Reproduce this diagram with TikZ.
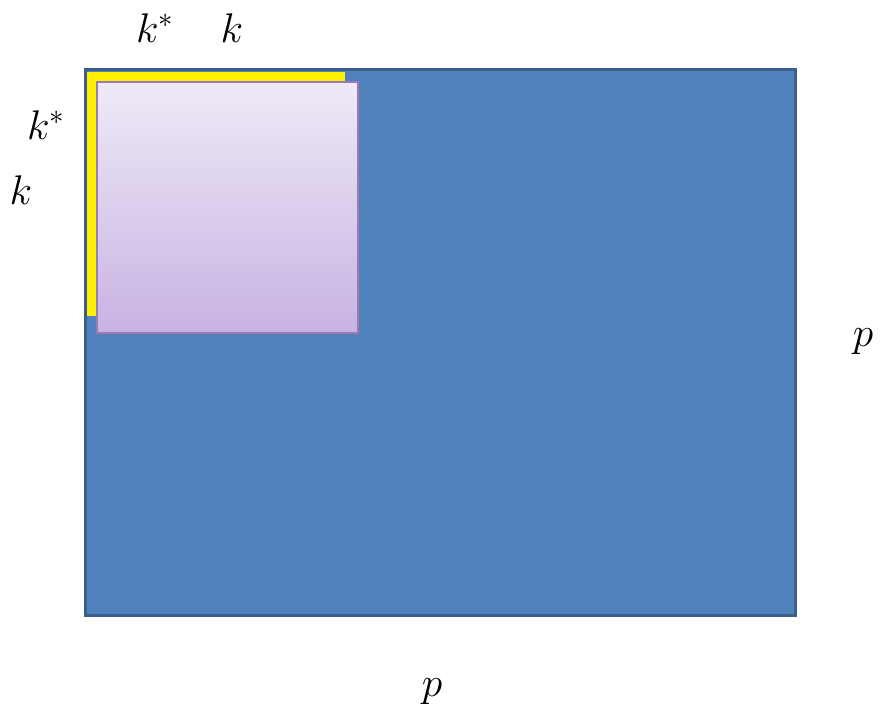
\documentclass[tikz,border=0pt]{standalone}
\usepackage{amsmath,amssymb}
\usepackage{tikz}
\usetikzlibrary{positioning,shadows}
\usepackage{xcolor}
\definecolor{blockblue}{HTML}{4F81BD}
\definecolor{blockedge}{HTML}{3B5F8C}
\definecolor{lilactop}{HTML}{EFEAF7}
\definecolor{lilacbot}{HTML}{C7B3E3}
\definecolor{lilacedge}{HTML}{9A7BB8}

\begin{document}
\begin{tikzpicture}[
  x=0.5pt, y=-0.5pt,
  lbl/.style={font=\fontsize{21}{25}\selectfont, inner sep=0pt},
]
  \useasboundingbox (0,0) rectangle (883,721);

  % full p x p matrix
  \filldraw[fill=blockblue, draw=blockedge, line width=1.5pt]
    (85,70) rectangle (795,615);
  % k* x k* block
  \fill[yellow] (87,72) rectangle (345,316);
  % k x k block
  \shade[top color=lilactop, bottom color=lilacbot, draw=lilacedge, line width=0.6pt,
         drop shadow={shadow xshift=1pt, shadow yshift=-1pt, opacity=0.35}]
    (97,82) rectangle (358,333);

  \node[lbl] (kstartop) at (155,28)  {$k^*$};
  \node[lbl] (ktop)     at (232,28)  {$k$};
  \node[lbl] (kstarleft) at (46,125) {$k^*$};
  \node[lbl] (kleft)    at (21,190)  {$k$};
  \node[lbl] (pright)   at (863,342) {$p$};
  \node[lbl] (pbottom)  at (432,692) {$p$};
\end{tikzpicture}
\end{document}
